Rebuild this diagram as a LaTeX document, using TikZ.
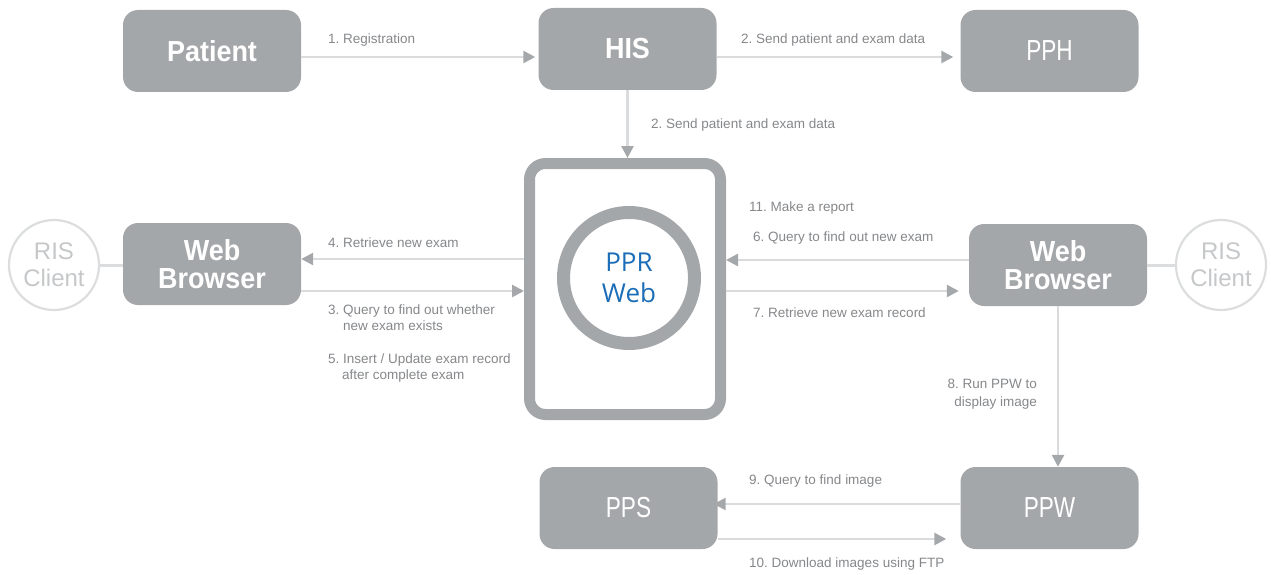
\documentclass[tikz,border=0pt]{standalone}
\usepackage{fontspec}
\setmainfont{Liberation Sans}
\newfontfamily\boldcond[FakeStretch=0.93]{Liberation Sans}
\newfontfamily\condfont[FakeStretch=0.78]{Liberation Sans}
\newfontfamily\pprfont{Open Sans}
\usetikzlibrary{arrows.meta}
\definecolor{boxgray}{HTML}{A4A7A9}
\definecolor{linegray}{HTML}{DADBDC}
\definecolor{headgray}{HTML}{A5A8AA}
\definecolor{labelgray}{HTML}{85878A}
\definecolor{risline}{HTML}{DCDDDE}
\definecolor{ristext}{HTML}{C5C7C9}
\definecolor{pprblue}{HTML}{1B6DB7}
\tikzset{
  box/.style={fill=boxgray, rounded corners=15pt, minimum width=178pt, minimum height=82pt, inner sep=0pt, text=white, align=center},
  bigbox/.style={box, font=\boldcond\bfseries\fontsize{29}{28}\selectfont},
  thinbox/.style={box, font=\condfont\fontsize{29}{30}\selectfont},
  riscircle/.style={circle, draw=risline, line width=2.2pt, minimum size=90pt, inner sep=0pt, text=ristext, font=\fontsize{24}{27}\selectfont, align=center},
  arr/.style={draw=linegray, line width=2.6pt, -{Triangle[length=12pt,width=12pt,color=headgray]}},
  lab/.style={text=labelgray, font=\frenchspacing\fontsize{13.5}{16}\selectfont, inner sep=0pt, anchor=west, align=left},
}
\begin{document}
\begin{tikzpicture}[x=1pt,y=-1pt]
\useasboundingbox (0,0) rectangle (1271,575);
% boxes
\node[bigbox] (patient) at (212,51) {Patient};
\node[bigbox] (his) at (627.5,49) {HIS};
\node[thinbox] (pph) at (1049.5,51) {PPH};
\node[bigbox] (wbl) at (212,264) {Web\\Browser};
\node[bigbox] (wbr) at (1058,265) {Web\\Browser};
\node[thinbox] (pps) at (628.5,508) {PPS};
\node[thinbox] (ppw) at (1049.5,508) {PPW};
% PPR Web
\node[draw=boxgray, line width=11pt, rounded corners=16pt, minimum width=191pt, minimum height=251pt, inner sep=0pt] (ppr) at (625,289) {};
\node[circle, draw=boxgray, line width=13pt, minimum size=131pt, inner sep=0pt, text=pprblue, font=\pprfont\fontsize{26}{31}\selectfont, align=center] (pprc) at (629,278) {PPR\\Web};
% RIS clients
\node[riscircle] (risl) at (54,265) {RIS\\Client};
\node[riscircle] (risr) at (1221,265) {RIS\\Client};
\draw[risline, line width=3pt] (risl.east) -- (risl.east -| wbl.west);
\draw[risline, line width=3pt] (wbr.east |- risr.west) -- (risr.west);
% arrows
\draw[arr, shorten >=3pt] ([yshift=-6pt]patient.east) -- ([yshift=-8pt]his.west);
\draw[arr, shorten >=7pt] ([yshift=-8pt]his.east) -- ([yshift=-6pt]pph.west);
\draw[arr] (his.south) -- (his.south |- ppr.north);
\draw[arr] ([yshift=30pt]ppr.west) -- ([yshift=5pt]wbl.east);
\draw[arr] ([yshift=-27pt]wbl.east) -- ([yshift=-2pt]ppr.west);
\draw[arr] ([yshift=5pt]wbr.west) -- ([yshift=29pt]ppr.east);
\draw[arr, shorten >=10pt] ([yshift=-2pt]ppr.east) -- ([yshift=-26pt]wbr.west);
\draw[arr] (wbr.south) -- (wbr.south |- ppw.north);
\draw[arr, shorten >=-4pt] ([yshift=4pt]ppw.west) -- ([yshift=4pt]pps.east);
\draw[arr, shorten >=14pt] ([yshift=-31pt]pps.east) -- ([yshift=-31pt]ppw.west);
% labels
\node[lab] (l1) at (328,40) {1. Registration};
\node[lab] (l2a) at (741,40) {2. Send patient and exam data};
\node[lab] (l2b) at (651,125) {2. Send patient and exam data};
\node[lab] (l4) at (328,243) {4. Retrieve new exam};
\node[lab] (l3) at (328,318) {3. Query to find out whether\\\hspace*{15pt}new exam exists};
\node[lab] (l5) at (328,368) {5. Insert / Update exam record\\\hspace*{14pt}after complete exam};
\node[lab] (l11) at (749,208) {11. Make a report};
\node[lab] (l6) at (753,238) {6. Query to find out new exam};
\node[lab] (l7) at (753,313) {7. Retrieve new exam record};
\node[lab, anchor=east, align=right, font=\frenchspacing\fontsize{13.5}{18}\selectfont] (l8) at (1037,394) {8. Run PPW to\\display image};
\node[lab] (l9) at (749,481) {9. Query to find image};
\node[lab] (l10) at (749,564) {10. Download images using FTP};
\end{tikzpicture}
\end{document}
